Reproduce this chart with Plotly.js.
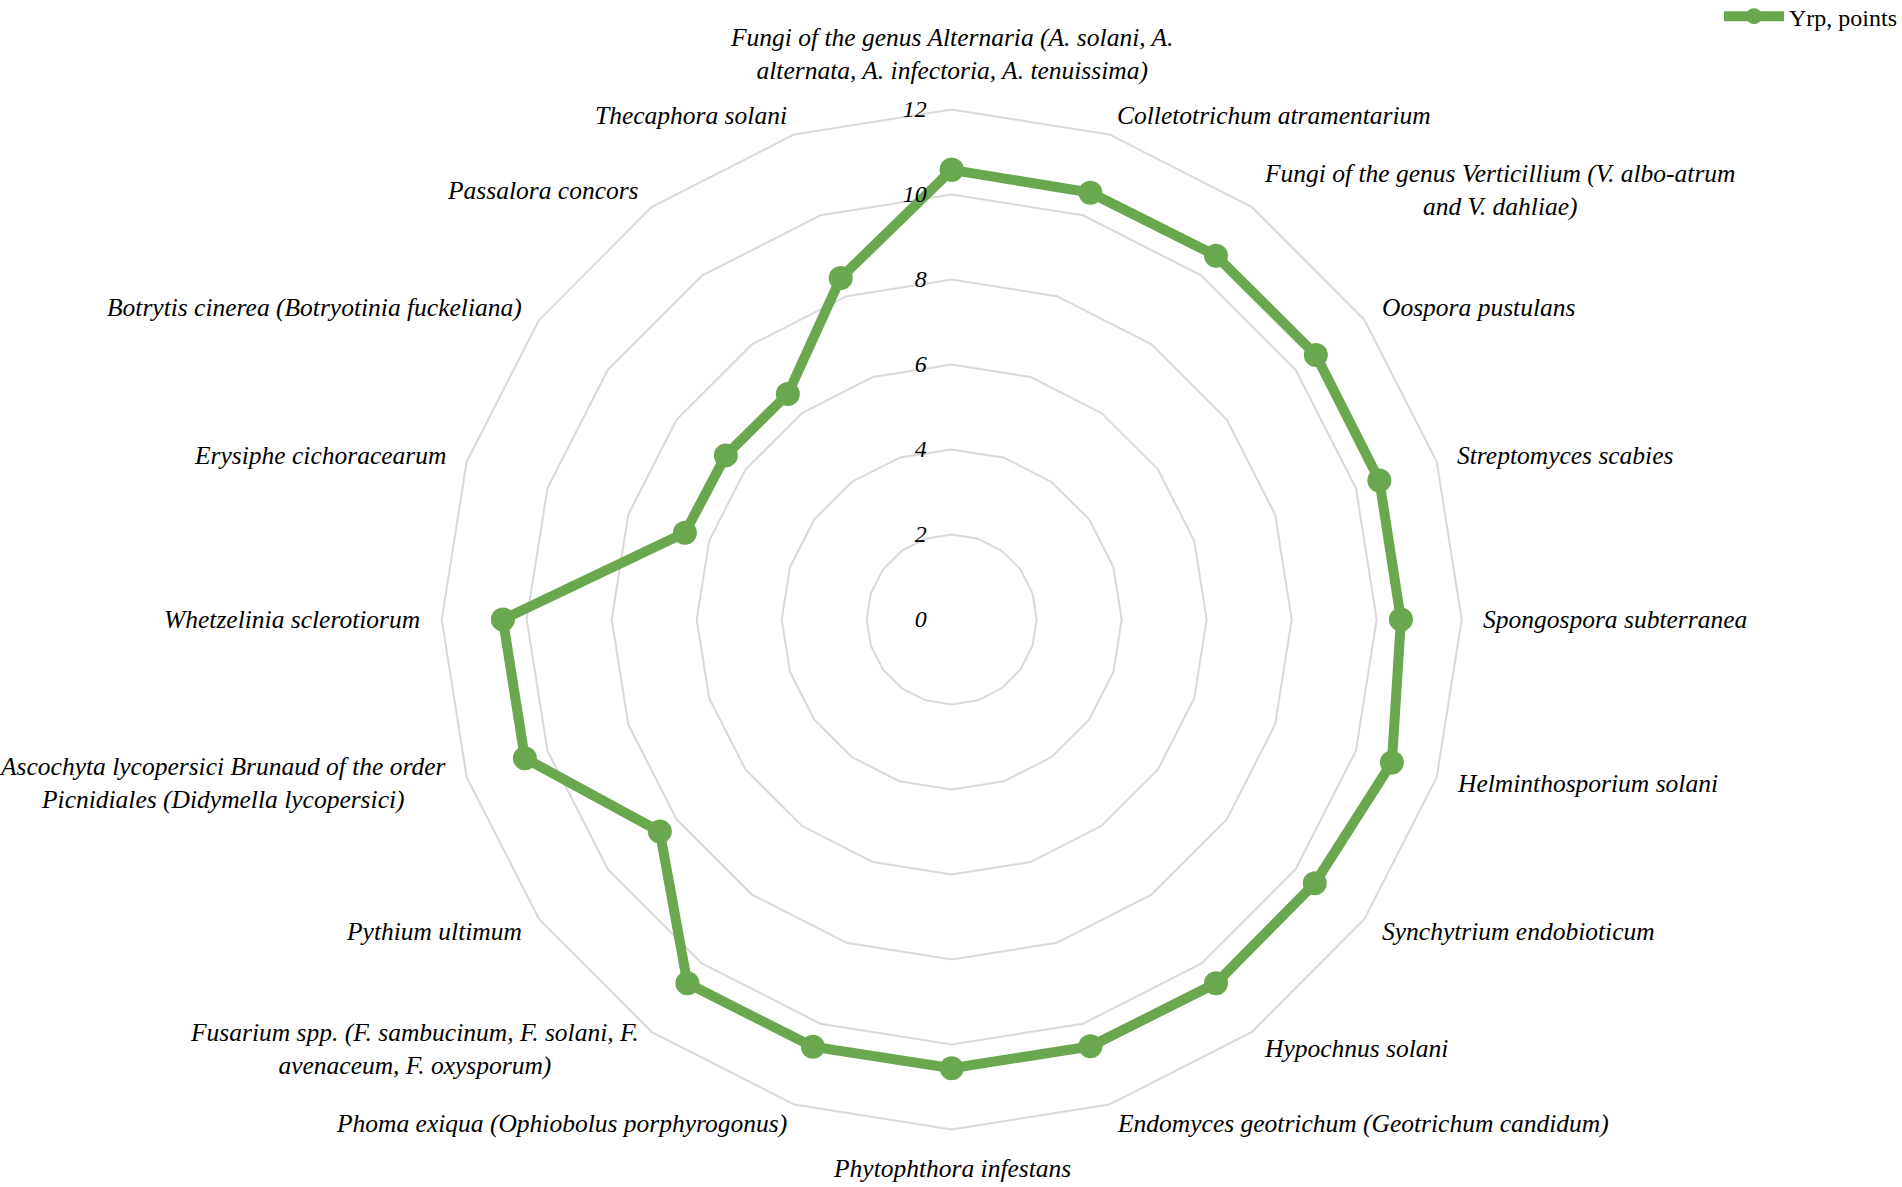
<!DOCTYPE html>
<html>
<head>
<meta charset="utf-8">
<script src="https://cdn.plot.ly/plotly-3.0.1.min.js"></script>
<style>
  html, body { margin: 0; padding: 0; background: #ffffff; }
  #chart { width: 1902px; height: 1187px; }
</style>
</head>
<body>
<div id="chart"></div>
<script>
const categories = [
  "Fungi of the genus Alternaria (A. solani, A.<br>alternata, A. infectoria, A. tenuissima)",
  "Colletotrichum atramentarium",
  "Fungi of the genus Verticillium (V. albo-atrum<br>and V. dahliae)",
  "Oospora pustulans",
  "Streptomyces scabies",
  "Spongospora subterranea",
  "Helminthosporium solani",
  "Synchytrium endobioticum",
  "Hypochnus solani",
  "Endomyces geotrichum (Geotrichum candidum)",
  "Phytophthora infestans",
  "Phoma exiqua (Ophiobolus porphyrogonus)",
  "Fusarium spp. (F. sambucinum, F. solani, F.<br>avenaceum, F. oxysporum)",
  "Pythium ultimum",
  "Ascochyta lycopersici Brunaud of the order<br>Picnidiales (Didymella lycopersici)",
  "Whetzelinia sclerotiorum",
  "Erysiphe cichoracearum",
  "Botrytis cinerea (Botryotinia fuckeliana)",
  "Passalora concors",
  "Thecaphora solani"
];
const yrpPoints = [10.58, 10.56, 10.58, 10.59, 10.58, 10.57, 10.89, 10.56, 10.58, 10.56,
                   10.56, 10.57, 10.58, 8.49, 10.56, 10.56, 6.6, 6.57, 6.56, 8.45];
const seriesName = "Yrp, points";
const radialTicks = [0, 2, 4, 6, 8, 10, 12];
const radialMax = 12;

const W = 1902, H = 1187;
const green = "#6aa84f";
const grid = "#d9d9d9";
const serif = "'Liberation Serif', 'DejaVu Serif', serif";

// polar domain (paper fractions)
const domX = [0.23223, 0.76851];
const domY = [0.04844, 0.90775];

const trace = {
  type: "scatterpolar",
  mode: "lines+markers",
  name: seriesName,
  r: yrpPoints.concat([yrpPoints[0]]),
  theta: categories.concat([categories[0]]),
  line: { color: green, width: 10 },
  marker: { color: green, size: 24 },
  showlegend: true,
  hoverinfo: "skip"
};

// category labels placed around the polygon, Excel-style
const cxPaper = (domX[0] + domX[1]) / 2;
const cyPaper = (domY[0] + domY[1]) / 2;
const radiusPx = Math.min((domX[1] - domX[0]) * W, (domY[1] - domY[0]) * H) / 2;
const labelRadiusPx = radiusPx * 1.04;
const N = categories.length;
const annotations = categories.map((txt, i) => {
  const a = (i * 360 / N) * Math.PI / 180;
  const dx = labelRadiusPx * Math.sin(a);
  let dy = labelRadiusPx * Math.cos(a);
  let xanchor = "center", yanchor = "middle";
  if (i === 0) { yanchor = "bottom"; dy += 3; }
  else if (i === N / 2) { yanchor = "top"; dy -= 3; }
  else {
    xanchor = i < N / 2 ? "left" : "right";
    dy += 0;
  }
  return {
    xref: "paper", yref: "paper",
    x: cxPaper + dx / W,
    y: cyPaper + dy / H,
    xanchor, yanchor,
    align: "center",
    showarrow: false,
    borderpad: 0,
    text: txt,
    font: { family: serif, size: 25.5, style: "italic", color: "#000000" }
  };
});

const layout = {
  width: W,
  height: H,
  margin: { l: 0, r: 0, t: 0, b: 0, autoexpand: false },
  paper_bgcolor: "#ffffff",
  plot_bgcolor: "#ffffff",
  font: { family: serif, color: "#000000" },
  showlegend: true,
  legend: {
    x: 1, xanchor: "right", y: 1.005, yanchor: "top",
    bgcolor: "rgba(0,0,0,0)",
    font: { family: serif, size: 24, color: "#000000" },
    itemwidth: 60
  },
  annotations: annotations,
  polar: {
    domain: { x: domX, y: domY },
    gridshape: "linear",
    bgcolor: "rgba(0,0,0,0)",
    radialaxis: {
      range: [0, radialMax],
      tickvals: radialTicks,
      ticktext: radialTicks.map(String),
      angle: 90,
      side: "counterclockwise",
      tickangle: 90,
      showline: false,
      ticks: "outside",
      ticklen: 16,
      tickcolor: "rgba(0,0,0,0)",
      showgrid: true,
      gridcolor: grid,
      gridwidth: 2,
      tickfont: { family: serif, size: 24, style: "italic", color: "#000000" }
    },
    angularaxis: {
      type: "category",
      categoryarray: categories,
      direction: "clockwise",
      rotation: 90,
      showgrid: false,
      showline: true,
      linecolor: grid,
      linewidth: 2,
      ticks: "",
      showticklabels: false
    }
  }
};

Plotly.newPlot("chart", [trace], layout, { staticPlot: true, displayModeBar: false });
</script>
</body>
</html>
